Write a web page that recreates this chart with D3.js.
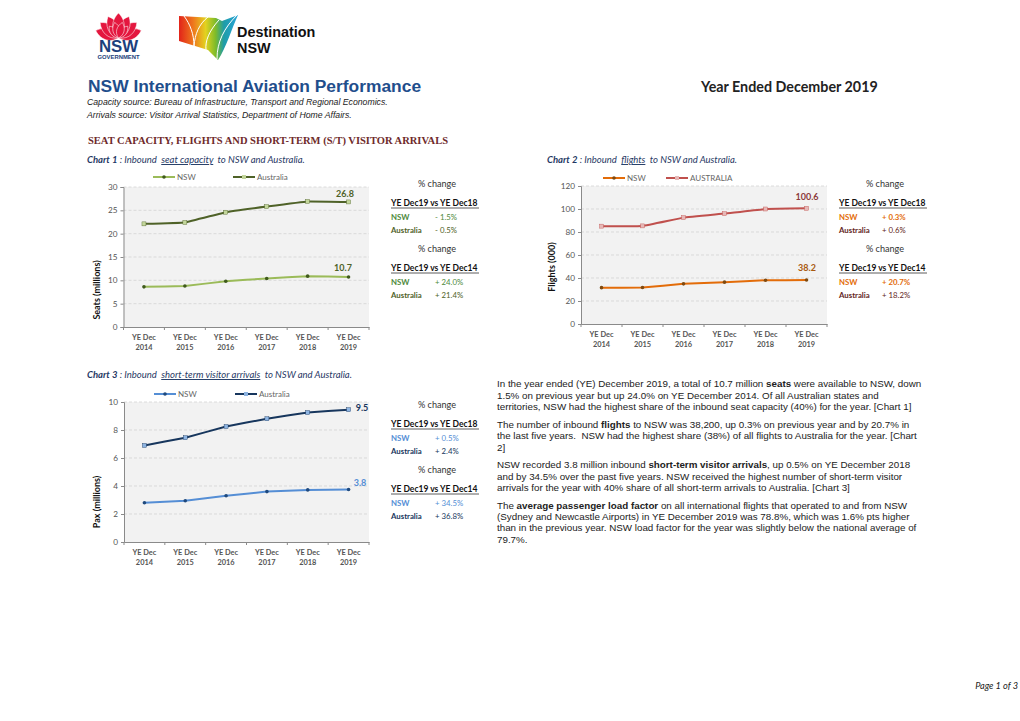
<!DOCTYPE html>
<html>
<head>
<meta charset="utf-8">
<script src="https://cdnjs.cloudflare.com/ajax/libs/d3/7.8.5/d3.min.js"></script>
<style>
  html, body { margin: 0; padding: 0; background: #fff; }
  svg { display: block; }
  text { font-family: Lato, "Open Sans", sans-serif; white-space: pre; }
  .arial { font-family: "Liberation Sans", Arial, sans-serif; }
  .serif { font-family: "Liberation Serif", serif; }
</style>
</head>
<body>
<svg id="page" width="1020" height="721"></svg>
<script>
'use strict';

var years = ["2014", "2015", "2016", "2017", "2018", "2019"];

var seatsNsw = [8.6, 8.8, 9.8, 10.4, 10.9, 10.7];
var seatsAus = [22.1, 22.4, 24.6, 25.8, 26.9, 26.8];
var flightsNsw = [31.6, 31.7, 34.9, 36.4, 38.0, 38.2];
var flightsAus = [85.1, 85.3, 92.5, 96.0, 100.0, 100.6];
var arrivalsNsw = [2.8, 2.95, 3.3, 3.6, 3.72, 3.75];
var arrivalsAus = [6.9, 7.45, 8.25, 8.8, 9.25, 9.45];

var seatsTicks = [0, 5, 10, 15, 20, 25, 30];
var flightsTicks = [0, 20, 40, 60, 80, 100, 120];
var arrivalsTicks = [0, 2, 4, 6, 8, 10];

var seatsChange = ["- 1.5%", "- 0.5%", "+ 24.0%", "+ 21.4%"];
var flightsChange = ["+ 0.3%", "+ 0.6%", "+ 20.7%", "+ 18.2%"];
var arrivalsChange = ["+ 0.5%", "+ 2.4%", "+ 34.5%", "+ 36.8%"];

// one entry per line, [text, bold]
var bodyLines = [
  [387, [["In the year ended (YE) December 2019, a total of 10.7 million ", 0], ["seats", 1], [" were available to NSW, down", 0]]],
  [398.5, [["1.5% on previous year but up 24.0% on YE December 2014. Of all Australian states and", 0]]],
  [410, [["territories, NSW had the highest share of the inbound seat capacity (40%) for the year. [Chart 1]", 0]]],
  [427.5, [["The number of inbound ", 0], ["flights", 1], [" to NSW was 38,200, up 0.3% on previous year and by 20.7% in", 0]]],
  [439, [["the last five years.  NSW had the highest share (38%) of all flights to Australia for the year. [Chart", 0]]],
  [450.5, [["2]", 0]]],
  [468, [["NSW recorded 3.8 million inbound ", 0], ["short-term visitor arrivals", 1], [", up 0.5% on YE December 2018", 0]]],
  [479.5, [["and by 34.5% over the past five years. NSW received the highest number of short-term visitor", 0]]],
  [490.5, [["arrivals for the year with 40% share of all short-term arrivals to Australia. [Chart 3]", 0]]],
  [508.5, [["The ", 0], ["average passenger load factor", 1], [" on all international flights that operated to and from NSW", 0]]],
  [520, [["(Sydney and Newcastle Airports) in YE December 2019 was 78.8%, which was 1.6% pts higher", 0]]],
  [531, [["than in the previous year. NSW load factor for the year was slightly below the national average of", 0]]],
  [542.5, [["79.7%.", 0]]]
];

var svg = d3.select("#page");

function put(x, y, str, size, fill, opts) {
  opts = opts || {};
  return svg.append("text")
    .attr("x", x).attr("y", y)
    .attr("font-size", size)
    .attr("fill", fill)
    .attr("class", opts.cls || null)
    .attr("font-weight", opts.bold ? "bold" : null)
    .attr("font-style", opts.italic ? "italic" : null)
    .attr("text-anchor", opts.anchor || null)
    .text(str);
}

function drawLogos() {
  // NSW government waratah
  var flower = svg.append("g").attr("transform", "translate(118.5,38)");
  [[-72, 24], [72, 24], [-50, 24], [50, 24], [-26, 24], [26, 24], [0, 25], [-38, 15], [38, 15], [-14, 16], [14, 16]].forEach(function (p) {
    var r = p[1];
    flower.append("path")
      .attr("d", "M0,0 C" + (-r * 0.34) + "," + (-r * 0.3) + " " + (-r * 0.28) + "," + (-r * 0.72) + " 0," + (-r) +
        " C" + (r * 0.28) + "," + (-r * 0.72) + " " + (r * 0.34) + "," + (-r * 0.3) + " 0,0Z")
      .attr("fill", "#e4173f")
      .attr("stroke", "#fff").attr("stroke-width", 0.5)
      .attr("transform", "rotate(" + p[0] + ")");
  });
  put(118.5, 51.7, "NSW", 16.8, "#1c3f7c", {cls: "arial", bold: true, anchor: "middle"});
  put(118.5, 59.4, "GOVERNMENT", 4.6, "#1c3f7c", {cls: "arial", bold: true, anchor: "middle"})
    .attr("textLength", 42).attr("lengthAdjust", "spacingAndGlyphs");

  // Destination NSW map mark
  var grad = svg.append("defs").append("linearGradient").attr("id", "dnsw");
  [[0, "#e2231a"], [0.25, "#ee7b1d"], [0.45, "#e3d21f"], [0.62, "#7dbb2a"], [0.76, "#1e9ca8"], [1, "#2aa5d8"]]
    .forEach(function (s) {
      grad.append("stop").attr("offset", s[0]).attr("stop-color", s[1]);
    });
  svg.append("path")
    .attr("d", "M179,16 L216,18 L222,21 L238,15 C232,28 226,48 218,60 L208,50 L179,41Z")
    .attr("fill", "url(#dnsw)");
  ["M184,16 C190,24 194,34 194,46", "M208,17 C199,24 195,34 194,46",
   "M219,20 C209,31 205,41 206,50", "M237,15 C224,28 217,42 217,59"].forEach(function (d) {
    svg.append("path").attr("d", d).attr("fill", "none").attr("stroke", "#fff").attr("stroke-width", 1);
  });
  put(237, 37, "Destination", 14.4, "#111", {cls: "arial", bold: true});
  put(237, 53, "NSW", 14.4, "#111", {cls: "arial", bold: true});
}

function drawHeader() {
  put(88, 92, "NSW International Aviation Performance", 17.4, "#1f4e8c", {cls: "arial", bold: true});
  put(701, 92, "Year Ended December 2019", 14.3, "#222", {bold: true});
  put(87, 105, "Capacity source: Bureau of Infrastructure, Transport and Regional Economics.", 8.7, "#222", {cls: "arial", italic: true});
  put(87, 118, "Arrivals source: Visitor Arrival Statistics, Department of Home Affairs.", 8.7, "#222", {cls: "arial", italic: true});
  put(88, 144, "SEAT CAPACITY, FLIGHTS AND SHORT-TERM (S/T) VISITOR ARRIVALS", 10.5, "#6e2a2a", {cls: "serif", bold: true});
  put(1018, 689, "Page 1 of 3", 9.2, "#222", {anchor: "end", italic: true});
}

function drawCaption(x, y, label, keyword, rest) {
  var t = put(x, y, "", 9.5, "#1f3864", {italic: true});
  t.append("tspan").attr("font-weight", "bold").text(label);
  t.append("tspan").text(" : Inbound  ");
  t.append("tspan").attr("text-decoration", "underline").text(keyword);
  t.append("tspan").text("  " + rest);
}

function drawChart(c) {
  var x = d3.scaleBand().domain(years).range([c.left, c.right]);
  var y = d3.scaleLinear().domain([c.ticks[0], c.ticks[c.ticks.length - 1]]).range([c.bottom, c.top]);
  var line = d3.line()
    .x(function (d, i) { return x(years[i]) + x.bandwidth() / 2; })
    .y(function (d) { return y(d); })
    .curve(d3.curveCardinal.tension(0.8));

  svg.append("rect")
    .attr("x", c.left).attr("y", c.top)
    .attr("width", c.right - c.left).attr("height", c.bottom - c.top)
    .attr("fill", "#f2f2f2");

  svg.append("g").selectAll("line").data(c.ticks.slice(1)).join("line")
    .attr("x1", c.left).attr("x2", c.right)
    .attr("y1", function (d) { return y(d); })
    .attr("y2", function (d) { return y(d); })
    .attr("stroke", "#d0d0d0").attr("stroke-width", 0.7)
    .attr("stroke-dasharray", "3,2");

  var yAxis = svg.append("g")
    .attr("transform", "translate(" + c.left + ",0)")
    .call(d3.axisLeft(y).tickValues(c.ticks).tickSize(3).tickPadding(3));
  yAxis.selectAll("path,line").attr("stroke", "#8a8a8a");
  yAxis.selectAll("text").attr("font-size", 8.2).attr("fill", "#555").attr("font-family", "Lato");

  var xAxis = svg.append("g")
    .attr("transform", "translate(0," + c.bottom + ")")
    .call(d3.axisBottom(x).tickSize(0).tickPadding(6).tickFormat(function () { return ""; }));
  xAxis.select("path").attr("stroke", "#8a8a8a");
  xAxis.selectAll("text").each(function (d) {
    var t = d3.select(this).attr("font-size", 7.4).attr("font-weight", "bold").attr("fill", "#555").attr("font-family", "Lato");
    t.append("tspan").attr("x", 0).attr("dy", "0.9em").text("YE Dec");
    t.append("tspan").attr("x", 0).attr("dy", "1.4em").text(d);
  });
  // tick marks sit between the categories
  xAxis.selectAll("line.sep").data(d3.range(years.length + 1)).join("line")
    .attr("class", "sep")
    .attr("x1", function (i) { return c.left + i * x.step(); })
    .attr("x2", function (i) { return c.left + i * x.step(); })
    .attr("y1", 0).attr("y2", 3)
    .attr("stroke", "#8a8a8a");

  [[c.aus, c.ausColor, c.ausMark, "rect"], [c.nsw, c.nswColor, c.nswMark, "circle"]].forEach(function (s) {
    svg.append("path").datum(s[0]).attr("d", line)
      .attr("fill", "none").attr("stroke", s[1]).attr("stroke-width", 2);
    var pts = svg.append("g").selectAll(s[3]).data(s[0]).join(s[3]).attr("fill", s[2]);
    if (s[3] === "rect") {
      pts.attr("x", function (d, i) { return x(years[i]) + x.bandwidth() / 2 - 2; })
        .attr("y", function (d) { return y(d) - 2; })
        .attr("width", 4).attr("height", 4)
        .attr("stroke", s[1]).attr("stroke-width", 0.4);
    } else {
      pts.attr("cx", function (d, i) { return x(years[i]) + x.bandwidth() / 2; })
        .attr("cy", function (d) { return y(d); })
        .attr("r", 1.8);
    }
  });

  // legend
  svg.append("line").attr("x1", c.legend[0]).attr("x2", c.legend[0] + 22).attr("y1", c.legendY).attr("y2", c.legendY)
    .attr("stroke", c.nswColor).attr("stroke-width", 2);
  svg.append("circle").attr("cx", c.legend[0] + 11).attr("cy", c.legendY).attr("r", 1.8).attr("fill", c.nswMark);
  put(c.legend[0] + 24, c.legendY + 3, "NSW", 8, "#666");
  svg.append("line").attr("x1", c.legend[1]).attr("x2", c.legend[1] + 22).attr("y1", c.legendY).attr("y2", c.legendY)
    .attr("stroke", c.ausColor).attr("stroke-width", 2);
  svg.append("rect").attr("x", c.legend[1] + 9).attr("y", c.legendY - 2).attr("width", 4).attr("height", 4).attr("fill", c.ausMark);
  put(c.legend[1] + 24, c.legendY + 3, c.ausName, 8, "#666");

  // axis title
  svg.append("text")
    .attr("transform", "translate(" + c.titleX + "," + c.titleY + ") rotate(-90)")
    .attr("text-anchor", "middle")
    .attr("font-size", 9).attr("font-weight", "bold").attr("fill", "#111")
    .text(c.title);

  // value labels on the last point
  put(c.ausLabel[0], c.ausLabel[1], d3.format(".1f")(c.ausLabelValue), 9, c.ausText, {bold: true, anchor: "middle"});
  put(c.nswLabel[0], c.nswLabel[1], d3.format(".1f")(c.nswLabelValue), 9, c.nswText, {bold: true, anchor: "middle"});

  drawSide(c);
}

function drawSide(c) {
  var heads = ["YE Dec19 vs YE Dec18", "YE Dec19 vs YE Dec14"];
  [0, 1].forEach(function (k) {
    var y0 = c.side[1] + k * c.sideGap;
    put(c.side[0] + 46, y0, "% change", 9.1, "#333", {anchor: "middle"});
    put(c.side[0], y0 + 19, heads[k], 8.5, "#111", {bold: true});
    svg.append("line")
      .attr("x1", c.side[0]).attr("x2", c.side[0] + 88)
      .attr("y1", y0 + 21).attr("y2", y0 + 21)
      .attr("stroke", "#333").attr("stroke-width", 0.8);
    put(c.side[0], y0 + 33, "NSW", 7.8, c.nswSide, {bold: true});
    put(c.side[0] + c.sideValue, y0 + 33, c.change[k * 2], 7.8, c.nswSide, {bold: c.sideBold});
    put(c.side[0], y0 + 46, "Australia", 7.8, c.ausSide, {bold: true});
    put(c.side[0] + c.sideValue, y0 + 46, c.change[k * 2 + 1], 7.8, c.ausSide);
  });
}

function drawBody() {
  bodyLines.forEach(function (l) {
    var t = put(497, l[0], "", 9.8, "#222", {cls: "arial"});
    l[1].forEach(function (run) {
      t.append("tspan").attr("font-weight", run[1] ? "bold" : null).text(run[0]);
    });
  });
}

drawLogos();
drawHeader();
drawCaption(87, 163, "Chart 1", "seat capacity", "to NSW and Australia.");
drawCaption(547, 163, "Chart 2", "flights", "to NSW and Australia.");
drawCaption(87, 378, "Chart 3", "short-term visitor arrivals", "to NSW and Australia.");

drawChart({
  left: 123.5, right: 369, top: 187, bottom: 327,
  ticks: seatsTicks, nsw: seatsNsw, aus: seatsAus,
  nswColor: "#9bbb59", nswMark: "#3f5a1c", ausColor: "#4f6228", ausMark: "#c3d69b",
  legend: [153, 233], legendY: 177, ausName: "Australia",
  title: "Seats (millions)", titleX: 100, titleY: 290,
  ausLabel: [345, 197], ausLabelValue: 26.8, ausText: "#4f6228",
  nswLabel: [343, 271], nswLabelValue: 10.7, nswText: "#4f6228",
  side: [391, 187], sideGap: 65, sideValue: 44, sideBold: false,
  change: seatsChange, nswSide: "#4f8a3c", ausSide: "#4f6228"
});
drawChart({
  left: 581, right: 827, top: 186, bottom: 324,
  ticks: flightsTicks, nsw: flightsNsw, aus: flightsAus,
  nswColor: "#e36c09", nswMark: "#7f4a10", ausColor: "#c0504d", ausMark: "#e6b8b7",
  legend: [603, 666], legendY: 178, ausName: "AUSTRALIA",
  title: "Flights (000)", titleX: 555, titleY: 267,
  ausLabel: [807, 200], ausLabelValue: 100.6, ausText: "#8c3a3a",
  nswLabel: [807, 271], nswLabelValue: 38.2, nswText: "#a8590f",
  side: [839, 187], sideGap: 65, sideValue: 43, sideBold: true,
  change: flightsChange, nswSide: "#e36c09", ausSide: "#632523"
});
drawChart({
  left: 124, right: 369, top: 402, bottom: 542,
  ticks: arrivalsTicks, nsw: arrivalsNsw, aus: arrivalsAus,
  nswColor: "#558ed5", nswMark: "#1f497d", ausColor: "#17365d", ausMark: "#8db4e2",
  legend: [154, 235], legendY: 394, ausName: "Australia",
  title: "Pax (millions)", titleX: 100, titleY: 502,
  ausLabel: [362, 411], ausLabelValue: 9.5, ausText: "#17365d",
  nswLabel: [360, 486], nswLabelValue: 3.8, nswText: "#558ed5",
  side: [391, 408], sideGap: 65, sideValue: 44, sideBold: false,
  change: arrivalsChange, nswSide: "#558ed5", ausSide: "#17365d"
});

drawBody();
</script>
</body>
</html>
